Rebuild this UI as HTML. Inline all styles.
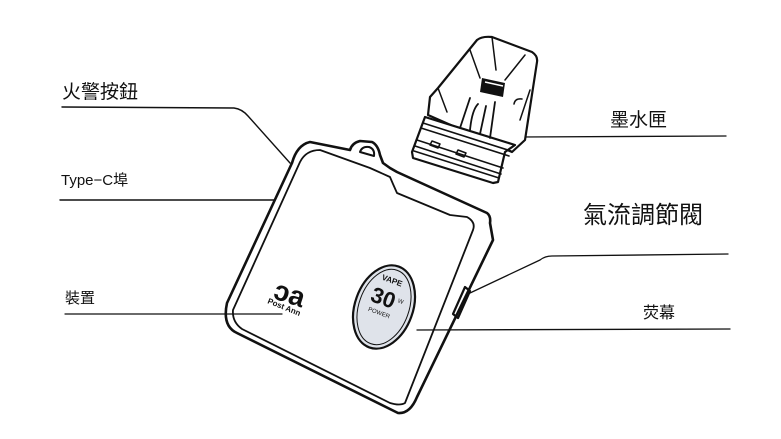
<!DOCTYPE html>
<html><head><meta charset="utf-8"><style>
html,body{margin:0;padding:0;background:#fff;width:781px;height:439px;overflow:hidden}
svg{display:block}
text{font-family:"Liberation Sans","Noto Sans CJK TC",sans-serif;fill:#111}
</style></head><body>
<svg width="781" height="439" viewBox="0 0 781 439" xmlns="http://www.w3.org/2000/svg">
<g fill="none" stroke="#111" stroke-linejoin="round" stroke-linecap="round">
<!-- leader lines -->
<path d="M62 107 L234 108 Q242 109 248 116 L290 163" stroke-width="1.4"/>
<path d="M60 200 L275 200" stroke-width="1.4"/>
<path d="M65 314 L282 314" stroke-width="1.2"/>
<path d="M520 137 L726 136" stroke-width="1.3"/>
<path d="M470 293 L540 260 Q545 256 552 256 L728 254" stroke-width="1.3"/>
<path d="M417 330 L730 329" stroke-width="1.3"/>
<!-- device outer -->
<path d="M310 142 L350 150 Q352 143 360 141 L372 142 Q378 145 380 155 L383 163 L390 168 L397 172 L487 213 Q491 216 490 223 L493 240 L417 397 Q410 414 398 413 L237 333 Q222 326 227 303 L292 163 Q297 145 310 142 Z" stroke-width="2.6"/>
<!-- device inner -->
<path d="M320 150 L370 168 L390 177 L393 184 L397 193 L450 215 L467 217 Q476 222 473 230 L405 403 Q400 406 390 403 L242 329 Q232 322 233 310 L300 162 Q306 150 320 150 Z" stroke-width="1.8"/>
<!-- tab hole -->
<path d="M360 152 Q362 146 369 147 Q375 149 374 156 Z" stroke-width="2"/>
<!-- airflow slot -->
<path d="M465 287 L470 291 L458 318 L453 314 Z" stroke-width="2.2"/>
<!-- screen -->
<ellipse cx="384" cy="307" rx="29" ry="43" transform="rotate(20 384 307)" stroke-width="2.2" fill="#dfe3ea"/>
<ellipse cx="384" cy="307" rx="25" ry="39" transform="rotate(20 384 307)" stroke-width="1"/>
<!-- pod body -->
<path d="M477 40 Q482 36 492 37 L532 52 Q538 56 537 62 L525 140 L512 152 L428 115 L430 97 L438 88 Z" stroke-width="2.2" fill="#fff"/>
<!-- pod base -->
<path d="M425 117 L515 145 L505 152 L498 182 L493 183 L413 158 L412 152 Z" stroke-width="2.2" fill="#fff"/>
<path d="M423 123 L511 151 M421 128 L509 156 M417 140 L503 168 M415 146 L501 174 M414 151 L499 178" stroke-width="1.6"/>
<path d="M432 141 l8 3 l-2 4 l-8 -3 Z M458 150 l8 3 l-2 4 l-8 -3 Z" stroke-width="1.5"/>
<path d="M470 98 L460 128 M495 102 L490 138 M478 104 Q472 110 470 130 M486 106 L480 134" stroke-width="1.8"/>
<path d="M492 37 L496 70 M525 55 L505 80 M470 50 L480 78 M438 88 L447 112 M530 90 L520 120 M522 99 Q515 98 514 104" stroke-width="1.5"/>
</g>
<path d="M482 78 L505 83 L503 97 L480 92 Z" fill="#111"/>
<path d="M485 82 L503 86" stroke="#fff" stroke-width="1.5"/>
<!-- logo -->
<text x="272" y="298" font-size="28" font-weight="bold" transform="rotate(18 272 298)">ɔa</text>
<text x="267" y="303" font-size="8" font-weight="bold" transform="rotate(22 267 303)">Post Ann</text>
<!-- screen text -->
<g transform="rotate(20 384 307)">
<text x="372" y="282" font-size="8" font-weight="bold">VAPE</text>
<text x="368" y="306" font-size="22" font-weight="bold">30</text>
<text x="395" y="298" font-size="6">W</text>
<text x="370" y="316" font-size="6">POWER</text>
</g>
<!-- labels -->
<text x="62" y="98" font-size="19">火警按鈕</text>
<text x="61" y="185" font-size="15">Type−C埠</text>
<text x="65" y="303" font-size="15">裝置</text>
<text x="610" y="126" font-size="19">墨水匣</text>
<text x="583" y="223" font-size="24">氣流調節閥</text>
<text x="643" y="318" font-size="16">荧幕</text>
</svg>
</body></html>
